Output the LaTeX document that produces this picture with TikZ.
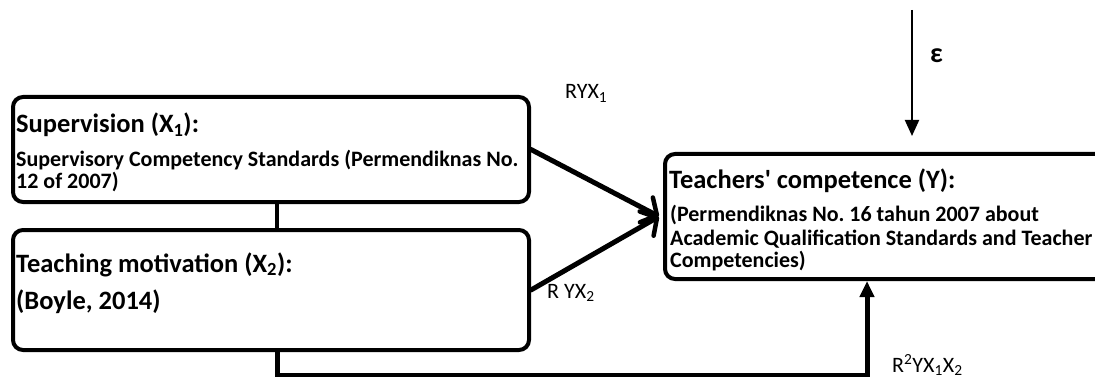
\documentclass[tikz,border=0pt]{standalone}
\usepackage{fontspec}
\setmainfont{Carlito}[Ligatures=TeXOff]
\usetikzlibrary{arrows.meta}
\frenchspacing
\begin{document}
\begin{tikzpicture}[x=1pt,y=-1pt,
  box/.style={draw,line width=4pt,rounded corners=10pt,inner sep=0pt},
  ttl/.style={font=\fontsize{26.5}{30}\selectfont\bfseries,anchor=base west,inner sep=0pt},
  body/.style={font=\fontsize{22}{24}\selectfont\bfseries,anchor=base west,inner sep=0pt},
  lbl/.style={font=\fontsize{22}{24}\selectfont,anchor=base west,inner sep=0pt},
  thickarrow/.style={line width=5pt,line cap=round},
  barb/.style={-{Straight Barb[length=12pt,width=28pt,line width=4.5pt,round]}},
  tri/.style={-{Triangle[length=16pt,width=14pt]}}]
\useasboundingbox (0,0) rectangle (1095,377);
\clip (0,0) rectangle (1095,377);
% boxes
\node[box,minimum width=516pt,minimum height=105pt] (x1) at (271,149.5) {};
\node[box,minimum width=516pt,minimum height=120pt] (x2) at (271,290) {};
\node[box,minimum width=450pt,minimum height=125pt] (y) at (890,216.5) {};
% texts
\node[ttl] (x1a) at (16,133) {Supervision (X\textsubscript{1}):};
\node[body] (x1b) at (16,166) {Supervisory Competency Standards (Permendiknas No.};
\node[body] (x1c) at (16,189) {12 of 2007)};
\node[ttl] (x2a) at (16,272) {Teaching motivation (X\textsubscript{2}):};
\node[ttl] (x2b) at (16,309) {(Boyle, 2014)};
\node[ttl] (ya) at (669,189) {Teachers' competence (Y):};
\node[body] (yb) at (670,221) {(Permendiknas No. 16 tahun 2007 about};
\node[body] (yc) at (670,245) {Academic Qualification Standards and Teacher};
\node[body] (yd) at (670,267) {Competencies)};
% labels
\node[lbl] (l1) at (565,99) {RYX\textsubscript{1}};
\node[lbl] (l2) at (547,298) {R YX\textsubscript{2}};
\node[lbl] (l3) at (892,372) {R\textsuperscript{2}YX\textsubscript{1}X\textsubscript{2}};
\node[font=\fontsize{28}{30}\selectfont\bfseries,anchor=base west,inner sep=0pt] (eps) at (930,63) {ε};
% connectors
\coordinate (etop) at (912,10);
\coordinate (bl) at (277,375);
\coordinate (br) at (867,375);
\draw[line width=4pt] (x1.south -| bl) -- (x2.north -| bl);
\draw[thickarrow,barb] (x1.east) -- ([xshift=-4pt]y.west);
\draw[thickarrow,barb] (x2.east) -- ([xshift=-4pt]y.west);
\draw[line width=5pt,tri] (x2.south -| bl) -- (bl) -- (br) -- (y.south -| br);
\draw[line width=2pt,tri,shorten >=16pt] (etop) -- (y.north -| etop);
\end{tikzpicture}
\end{document}
